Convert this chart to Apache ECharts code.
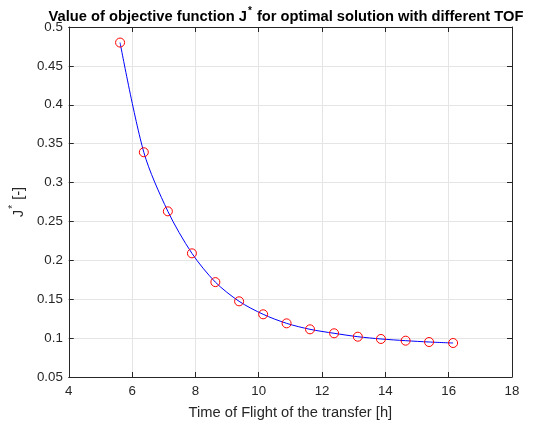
<!DOCTYPE html>
<html>
<head>
<meta charset="utf-8">
<script src="https://cdn.jsdelivr.net/npm/echarts@6/dist/echarts.min.js"></script>
<style>html,body{margin:0;padding:0;background:#fff;}#c{width:537px;height:428px;}</style>
</head>
<body>
<div id="c"></div>
<script>
const tofValues = [5.62, 6.37, 7.13, 7.89, 8.63, 9.38, 10.14, 10.88, 11.62, 12.38, 13.13, 13.86, 14.64, 15.38, 16.14];
const jValues = [0.480, 0.339, 0.263, 0.209, 0.172, 0.1473, 0.1306, 0.119, 0.1113, 0.1062, 0.1018, 0.0989, 0.0967, 0.095, 0.0937];
const xTicks = [4, 6, 8, 10, 12, 14, 16, 18];
const yTicks = [0.05, 0.1, 0.15, 0.2, 0.25, 0.3, 0.35, 0.4, 0.45, 0.5];

const FONT = '"Liberation Sans", Arial, Helvetica, sans-serif';
const AX = '#262626';
const data = tofValues.map((x, i) => [x, jValues[i]]);

const chart = echarts.init(document.getElementById('c'), null, {renderer: 'canvas'});
const baseAxis = {
  axisLine: {show: true, onZero: false, lineStyle: {color: AX, width: 1}},
  axisTick: {show: true, inside: true, length: 5, lineStyle: {color: AX}},
  splitLine: {show: false},
  axisLabel: {show: false}
};
chart.setOption({
  animation: false,
  backgroundColor: '#ffffff',
  title: {
    text: '{t|Value of objective function J}{s|*}{t| for optimal solution with different TOF}',
    left: 281, top: 1, textAlign: 'center',
    textStyle: {
      rich: {
        t: {fontFamily: FONT, fontWeight: 'bold', fontSize: 14.7, color: '#000', verticalAlign: 'bottom', lineHeight: 18},
        s: {fontFamily: FONT, fontWeight: 'bold', fontSize: 10, color: '#000', verticalAlign: 'top', lineHeight: 18, padding: [0, 1, 8, 1]}
      }
    }
  },
  grid: {left: 68, right: 25, top: 27, bottom: 51, containLabel: false},
  xAxis: [
    Object.assign({}, baseAxis, {
      type: 'value', position: 'bottom', min: 4, max: 18, interval: 2,
      axisLabel: {show: true, color: AX, fontFamily: FONT, fontSize: 13.3, margin: 8,
        formatter: v => xTicks.includes(v) ? String(v) : ''},
      splitLine: {show: true, lineStyle: {color: '#e5e5e5', width: 1}},
      name: 'Time of Flight of the transfer [h]', nameLocation: 'middle', nameGap: 28,
      nameTextStyle: {color: AX, fontFamily: FONT, fontSize: 14.7}
    }),
    Object.assign({}, baseAxis, {type: 'value', position: 'top', min: 4, max: 18, interval: 2})
  ],
  yAxis: [
    Object.assign({}, baseAxis, {
      type: 'value', position: 'left', min: 0.05, max: 0.5, interval: 0.05,
      axisLabel: {show: true, color: AX, fontFamily: FONT, fontSize: 13.3, margin: 6,
        formatter: v => { const r = Math.round(v * 100) / 100; return yTicks.some(t => Math.abs(t - r) < 1e-9) ? String(r) : ''; }},
      splitLine: {show: true, lineStyle: {color: '#e5e5e5', width: 1}},
      name: '{t|J}{s|*}{t| [-]}', nameLocation: 'middle', nameGap: 36, nameRotate: 90,
      nameTextStyle: {
        rich: {
          t: {fontFamily: FONT, fontSize: 14.7, color: AX, verticalAlign: 'bottom', lineHeight: 18},
          s: {fontFamily: FONT, fontSize: 10, color: AX, verticalAlign: 'top', lineHeight: 18, padding: [0, 1, 8, 1]}
        }
      }
    }),
    Object.assign({}, baseAxis, {type: 'value', position: 'right', min: 0.05, max: 0.5, interval: 0.05})
  ],
  series: [{
    type: 'line',
    data: data,
    smooth: 0.3,
    symbol: 'circle',
    symbolSize: 9,
    showAllSymbol: true,
    lineStyle: {color: '#0000ff', width: 1},
    itemStyle: {color: 'rgba(0,0,0,0)', borderColor: '#ff0000', borderWidth: 1},
    emphasis: {disabled: true}
  }]
});
</script>
</body>
</html>
